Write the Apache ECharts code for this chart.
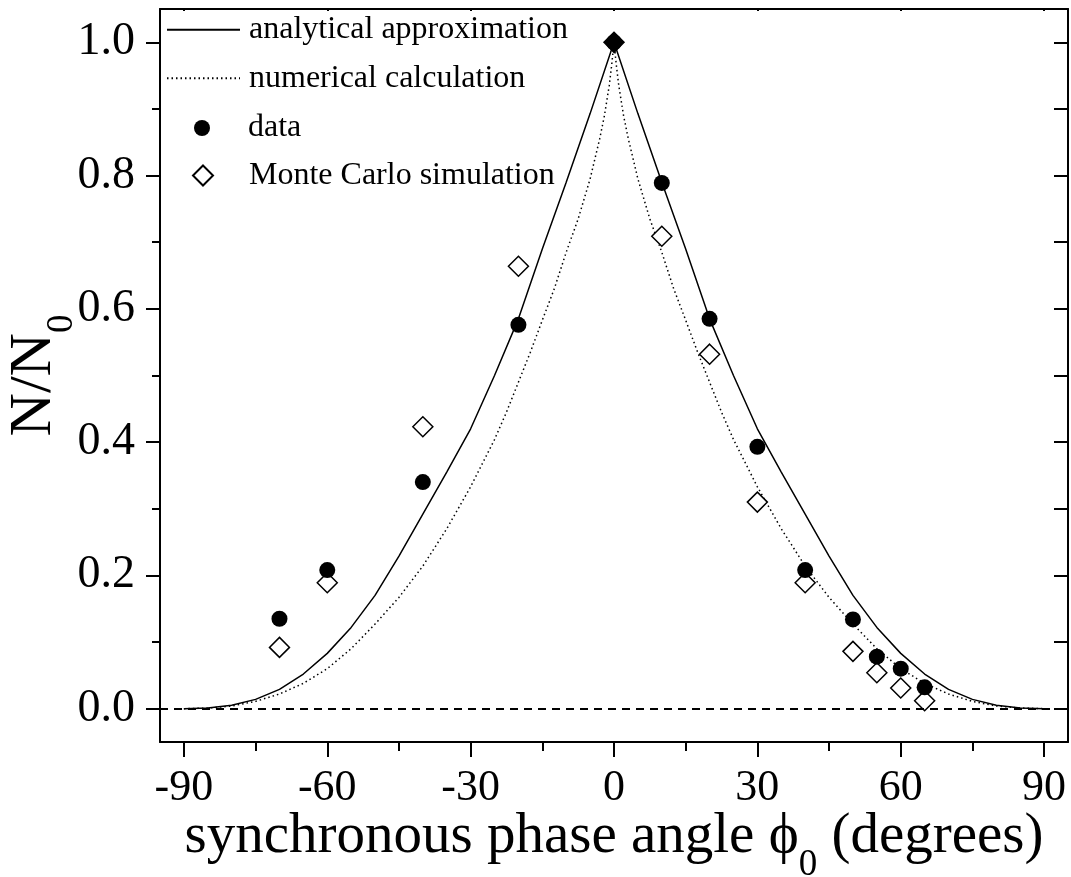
<!DOCTYPE html>
<html><head><meta charset="utf-8">
<script src="https://cdn.jsdelivr.net/npm/echarts@6/dist/echarts.min.js"></script>
<style>html,body{margin:0;padding:0;background:#fff}#c{width:1071px;height:877px}</style>
</head><body><div id="c"></div>
<script>
// tick values
const xMajorTicks = [-90, -60, -30, 0, 30, 60, 90];
const xMinorTicks = [-75, -45, -15, 15, 45, 75];
const yMajorTicks = [0, 0.2, 0.4, 0.6, 0.8, 1.0];
const yMinorTicks = [0.1, 0.3, 0.5, 0.7, 0.9];
const yRightTicks = [0, 0.1, 0.2, 0.3, 0.4, 0.5, 0.6, 0.7, 0.8, 0.9, 1.0];
const zeroLevel = 0;

// analytical approximation (solid curve)
const analyticX = [-90,-85,-80,-75,-70,-65,-60,-55,-50,-45,-40,-35,-30,-25,-20,-15,-10,-5,0,5,10,15,20,25,30,35,40,45,50,55,60,65,70,75,80,85,90];
const analyticY = [0,0.001,0.005,0.014,0.029,0.052,0.083,0.122,0.170,0.229,0.292,0.355,0.420,0.500,0.585,0.690,0.790,0.893,1.0,0.893,0.790,0.690,0.585,0.500,0.420,0.355,0.292,0.229,0.170,0.122,0.083,0.052,0.029,0.014,0.005,0.001,0];

// numerical calculation (dotted curve)
const numericX = [-90,-85,-80,-75,-70,-65,-60,-55,-50,-45,-40,-35,-30,-25,-22.5,-20,-17.5,-15,-12.5,-10,-7.5,-5,-3,-2,-1,-0.5,0,0.5,1,2,3,5,7.5,10,12.5,15,17.5,20,22.5,25,30,35,40,45,50,55,60,65,70,75,80,85,90];
const numericY = [0,0.001,0.004,0.011,0.022,0.038,0.060,0.090,0.127,0.167,0.214,0.270,0.333,0.404,0.445,0.490,0.535,0.583,0.630,0.685,0.735,0.795,0.855,0.890,0.935,0.965,1.0,0.965,0.935,0.890,0.855,0.795,0.735,0.685,0.630,0.583,0.535,0.490,0.445,0.404,0.333,0.270,0.214,0.167,0.127,0.090,0.060,0.038,0.022,0.011,0.004,0.001,0];

// measured data (filled circles)
const dataX = [-70,-60,-40,-20,0,10,20,30,40,50,55,60,65];
const dataY = [0.135,0.208,0.340,0.576,1.0,0.789,0.585,0.393,0.208,0.134,0.078,0.060,0.032];

// Monte Carlo simulation (open diamonds)
const mcX = [-70,-60,-40,-20,0,10,20,30,40,50,55,60,65];
const mcY = [0.092,0.189,0.423,0.664,1.0,0.709,0.532,0.310,0.189,0.086,0.054,0.031,0.012];

const FONT = 'Liberation Serif';
const BLACK = '#000';
const pairs = (xs, ys) => xs.map((x, i) => [x, ys[i]]);

const chart = echarts.init(document.getElementById('c'), null, {renderer: 'canvas'});

const xBase = {type: 'value', min: -95, max: 95, splitLine: {show: false}};
const yBase = {type: 'value', min: -0.05, max: 1.05, splitLine: {show: false}};
const lineS = {color: BLACK, width: 2};
const legendText = {fontFamily: FONT, fontSize: 32, color: BLACK, lineHeight: 36};

const option = {
  animation: false,
  backgroundColor: '#fff',
  grid: {left: 160, right: 3, top: 9, bottom: 135, outerBoundsMode: 'none', containLabel: false},
  legend: [
    {
      data: ['analytical approximation', 'numerical calculation'],
      orient: 'vertical', left: 166, top: 11.7, padding: 0,
      itemWidth: 73, itemHeight: 1, itemGap: 12.5,
      itemStyle: {opacity: 0},
      textStyle: Object.assign({}, legendText, {padding: [0, 0, 0, 4]})
    },
    {
      data: ['data'],
      orient: 'vertical', left: 194, top: 110, padding: 0,
      itemWidth: 16, itemHeight: 16,
      textStyle: Object.assign({}, legendText, {padding: [0, 0, 0, 33]})
    },
    {
      data: ['Monte Carlo simulation'],
      orient: 'vertical', left: 192, top: 157.5, padding: 0,
      itemWidth: 20, itemHeight: 20,
      textStyle: Object.assign({}, legendText, {padding: [0, 0, 0, 31]})
    }
  ],
  xAxis: [
    Object.assign({}, xBase, {
      position: 'bottom',
      axisLine: {show: true, onZero: false, lineStyle: lineS},
      axisTick: {show: true, inside: false, length: 15, customValues: xMajorTicks, lineStyle: lineS},
      axisLabel: {show: true, customValues: xMajorTicks, fontFamily: FONT, fontSize: 44, color: BLACK, margin: 24,
        formatter: v => String(v)},
      name: '{a|synchronous phase angle \u03D5}{s|0}{a| (degrees)}',
      nameLocation: 'middle', nameGap: 58, nameMoveOverlap: false,
      nameTextStyle: {rich: {
        a: {fontFamily: FONT, fontSize: 57, lineHeight: 75, color: BLACK},
        s: {fontFamily: FONT, fontSize: 37, lineHeight: 20, height: 20, verticalAlign: 'bottom', color: BLACK}
      }}
    }),
    Object.assign({}, xBase, {
      position: 'bottom',
      axisLine: {show: false, onZero: false},
      axisTick: {show: true, inside: false, length: 9, customValues: xMinorTicks, lineStyle: lineS},
      axisLabel: {show: false}
    }),
    Object.assign({}, xBase, {
      position: 'top',
      axisLine: {show: true, onZero: false, lineStyle: lineS},
      axisTick: {show: true, inside: true, length: 2, customValues: xMajorTicks, lineStyle: lineS},
      axisLabel: {show: false}
    })
  ],
  yAxis: [
    Object.assign({}, yBase, {
      position: 'left',
      axisLine: {show: true, onZero: false, lineStyle: lineS},
      axisTick: {show: true, inside: false, length: 14, customValues: yMajorTicks, lineStyle: lineS},
      axisLabel: {show: true, customValues: yMajorTicks, fontFamily: FONT, fontSize: 46, color: BLACK, margin: 25,
        formatter: v => v.toFixed(1)},
      name: '{a|N/N}{s|0}',
      nameLocation: 'middle', nameGap: 88, nameMoveOverlap: false,
      nameTextStyle: {rich: {
        a: {fontFamily: FONT, fontSize: 60, lineHeight: 75, color: BLACK},
        s: {fontFamily: FONT, fontSize: 37, lineHeight: 20, height: 20, verticalAlign: 'bottom', color: BLACK}
      }}
    }),
    Object.assign({}, yBase, {
      position: 'left',
      axisLine: {show: false, onZero: false},
      axisTick: {show: true, inside: false, length: 8, customValues: yMinorTicks, lineStyle: lineS},
      axisLabel: {show: false}
    }),
    Object.assign({}, yBase, {
      position: 'right',
      axisLine: {show: true, onZero: false, lineStyle: lineS},
      axisTick: {show: true, inside: true, length: 14, customValues: yRightTicks, lineStyle: lineS},
      axisLabel: {show: false}
    })
  ],
  series: [
    {
      name: 'analytical approximation', type: 'line',
      data: pairs(analyticX, analyticY),
      symbol: 'none', z: 2,
      lineStyle: {color: BLACK, width: 1.5, type: 'solid'},
      itemStyle: {color: BLACK},
      markLine: {
        silent: true, symbol: ['none', 'none'], label: {show: false},
        lineStyle: {color: BLACK, width: 2, type: [8, 6]},
        data: [{yAxis: zeroLevel}]
      }
    },
    {
      name: 'numerical calculation', type: 'line',
      data: pairs(numericX, numericY),
      symbol: 'none', z: 2,
      lineStyle: {color: BLACK, width: 1.5, type: [1.5, 3]},
      itemStyle: {color: BLACK}
    },
    {
      name: 'Monte Carlo simulation', type: 'scatter',
      data: mcX.map((x, i) => x === 0 ? {value: [x, mcY[i]], itemStyle: {color: BLACK}} : [x, mcY[i]]),
      symbol: 'diamond', symbolSize: 20, z: 3,
      itemStyle: {color: '#fff', borderColor: BLACK, borderWidth: 1.5, opacity: 1}
    },
    {
      name: 'data', type: 'scatter',
      data: pairs(dataX, dataY),
      symbol: 'circle', symbolSize: 16, z: 4,
      itemStyle: {color: BLACK, opacity: 1}
    }
  ]
};
chart.setOption(option);
</script>
</body></html>
